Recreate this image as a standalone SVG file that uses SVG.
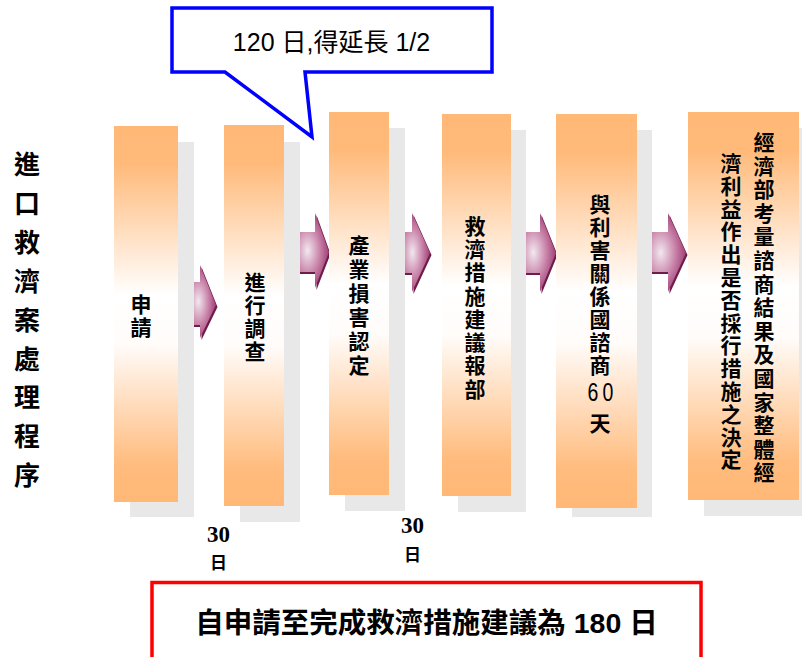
<svg xmlns="http://www.w3.org/2000/svg" width="802" height="657" viewBox="0 0 802 657">
<defs>
<linearGradient id="boxg" x1="0" y1="0" x2="0" y2="1">
<stop offset="0" stop-color="#FFB876"/>
<stop offset="0.1" stop-color="#FFBA7A"/>
<stop offset="0.45" stop-color="#FFFFFF"/>
<stop offset="0.58" stop-color="#FFFCFA"/>
<stop offset="0.9" stop-color="#FFBC7E"/>
<stop offset="1" stop-color="#FFB876"/>
</linearGradient>
<radialGradient id="arrg" cx="0.45" cy="0.5" r="0.6">
<stop offset="0" stop-color="#F2E8F0"/>
<stop offset="0.55" stop-color="#C77FA6"/>
<stop offset="1" stop-color="#94306A"/>
</radialGradient>
<polygon id="ap1" points="184,282 200,282 200,265 216,305 200,338 200,325 184,325"/>
<polygon id="ap2" points="290,232 315,232 315,213 329,252 315,288 315,272 290,272"/>
<polygon id="ap3" points="398,232 412,232 412,213 430,253 412,292 412,273 398,273"/>
<polygon id="ap4" points="515,232 540,232 540,213 556,253 540,292 540,273 515,273"/>
<polygon id="ap5" points="640,232 668,232 668,213 686,253 668,292 668,272 640,272"/>
<style>
.sh{fill:#E8E8E8}
.bx{fill:url(#boxg)}
.ar{fill:url(#arrg)}
.ars{fill:#6E1C4A}
.t{font-family:"Noto Sans CJK TC","Liberation Sans",sans-serif;font-weight:bold;fill:#000;text-anchor:middle;dominant-baseline:central}
.n{font-size:21px}
.d{font-family:"Liberation Serif",serif;font-weight:bold;font-size:23px;fill:#000;text-anchor:middle}
</style>
</defs>
<rect width="802" height="657" fill="#FFFFFF"/>

<g id="title">
<text class="t" style="font-size:26px" x="27 27 27 27 27 27 27 27 27" y="162.5 201.4 240.3 279.2 318.1 357 395.9 434.8 473.7">進口救濟案處理程序</text>
</g>

<g id="connectors">
<g id="a1"><use href="#ap1" class="ars" transform="translate(1.5 2)"/><use href="#ap1" class="ar"/></g>
<g id="a2"><use href="#ap2" class="ars" transform="translate(1.5 2)"/><use href="#ap2" class="ar"/></g>
<g id="a3"><use href="#ap3" class="ars" transform="translate(1.5 2)"/><use href="#ap3" class="ar"/></g>
<g id="a4"><use href="#ap4" class="ars" transform="translate(1.5 2)"/><use href="#ap4" class="ar"/></g>
<g id="a5"><use href="#ap5" class="ars" transform="translate(1.5 2)"/><use href="#ap5" class="ar"/></g>
</g>

<g id="n1">
<rect class="sh" x="130" y="142" width="64" height="375"/>
<rect class="bx" x="114" y="126" width="64" height="376"/>
<text class="t n" x="141 141" y="302.5 326">申請</text>
</g>

<g id="n2">
<rect class="sh" x="240" y="142" width="60" height="380"/>
<rect class="bx" x="224" y="125" width="60" height="381"/>
<text class="t n" x="255 255 255 255" y="281 304 327 350">進行調查</text>
</g>

<g id="n3">
<rect class="sh" x="345" y="128" width="60" height="383"/>
<rect class="bx" x="329" y="112" width="60" height="383"/>
<text class="t n" x="359 359 359 359 359 359" y="244 268 292 316 340 364">產業損害認定</text>
</g>

<g id="n4">
<rect class="sh" x="458" y="130" width="68" height="382"/>
<rect class="bx" x="442" y="114" width="69" height="382"/>
<text class="t n" x="475 475 475 475 475 475 475 475" y="225 248.2 271.3 294.5 317.6 340.8 364 387.5">救濟措施建議報部</text>
</g>

<g id="n5">
<rect class="sh" x="572" y="130" width="80" height="387"/>
<rect class="bx" x="556" y="114" width="81" height="394"/>
<text class="t n" x="600 600 600 600 600 600 600 600" y="202.5 225.5 248.5 271.5 294.5 317.5 340.5 364">與利害關係國諮商</text>
<text x="593" y="401" style="font-family:'Liberation Sans',sans-serif;font-size:25px;fill:#000;text-anchor:middle" transform="translate(593 0) scale(0.78 1) translate(-593 0)">6</text>
<text x="608" y="401" style="font-family:'Liberation Sans',sans-serif;font-size:25px;fill:#000;text-anchor:middle" transform="translate(608 0) scale(0.78 1) translate(-608 0)">0</text>
<text class="t n" x="600" y="422">天</text>
</g>

<g id="n6">
<rect class="sh" x="704" y="128" width="100" height="388"/>
<rect class="bx" x="688" y="112" width="111" height="388"/>
<text class="t n" x="764 764 764 764 764 764 764 764 764 764 764 764 764 764 764" y="141 164.6 188.2 211.8 235.4 259 282.6 306.2 329.8 353.4 377 400.6 424.2 447.8 471.4">經濟部考量諮商結果及國家整體經</text>
<text class="t n" x="731 731 731 731 731 731 731 731 731 731 731 731 731 731" y="162 184.8 207.6 230.4 253.2 276 298.8 321.6 344.4 367.2 390 412.8 435.6 458.4">濟利益作出是否採行措施之決定</text>
</g>

<g id="callout">
<path d="M172,8 H492 V72 H305 L312,137 L225,72 H172 Z" fill="#FFFFFF" stroke="#0000FF" stroke-width="3.5" stroke-linejoin="miter"/>
<text x="331.5" y="51" style="font-family:'Liberation Sans','Noto Sans CJK TC',sans-serif;font-size:25px;fill:#000;text-anchor:middle">120 日,得延長 1/2</text>
</g>

<g id="days1">
<text class="d" x="218.5" y="542">30</text>
<text class="t" style="font-size:17px" x="218.5" y="561">日</text>
</g>
<g id="days2">
<text class="d" x="412.5" y="533">30</text>
<text class="t" style="font-size:17px" x="412.5" y="553.5">日</text>
</g>

<g id="summary">
<rect x="152" y="582.5" width="549" height="90" fill="#FFFFFF" stroke="#FF0000" stroke-width="3.5"/>
<text x="426.5" y="633" style="font-family:'Liberation Sans','Noto Sans CJK TC',sans-serif;font-weight:bold;font-size:28.5px;fill:#000;text-anchor:middle">自申請至完成救濟措施建議為 180 日</text>
</g>
</svg>
